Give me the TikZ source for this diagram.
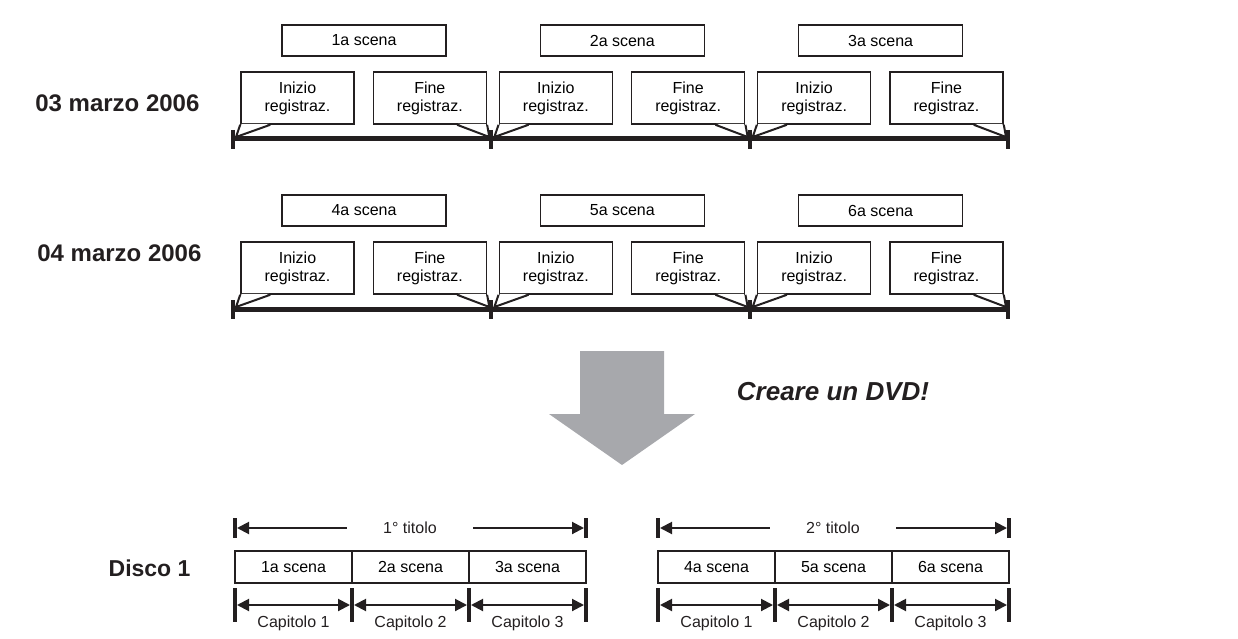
\documentclass[tikz,border=0pt]{standalone}
\usepackage{fontspec}
\setmainfont{Liberation Sans}
\usetikzlibrary{arrows.meta, calc}
\definecolor{ink}{RGB}{35,31,32}
\definecolor{arrowgray}{RGB}{167,168,172}
\tikzset{
    scenebox/.style={rectangle, draw=ink, line width=1.6pt, minimum width=164pt, minimum height=31pt, inner sep=0pt, text centered, font=\fontsize{16}{18}\selectfont},
    callout/.style={rectangle, draw=ink, line width=1.6pt, minimum width=113pt, minimum height=52pt, inner sep=0pt, align=center, font=\fontsize{16}{18}\selectfont},
    tail/.style={draw=ink, line width=2pt, line join=miter},
    timeline/.style={draw=ink, line width=5pt},
    tickmark/.style={draw=ink, line width=4pt},
    datelabel/.style={anchor=east, text=ink, font=\fontsize{24}{27}\selectfont\bfseries},
}

\begin{document}
\begin{tikzpicture}[
        x=1pt, y=-1pt,
        discbox/.style={rectangle, draw=ink, line width=1.5pt, minimum width=117pt, minimum height=32pt, inner sep=0pt, text centered, font=\fontsize{16}{18}\selectfont},
        smalltext/.style={text=ink, font=\fontsize{16}{18}\selectfont},
        arrow/.style={{Triangle[length=12pt,width=12pt]}-, draw=ink, line width=2pt},
        twoarrow/.style={{Triangle[length=12pt,width=12pt]}-{Triangle[length=12pt,width=12pt]}, draw=ink, line width=2pt}
    ]
        \useasboundingbox (0,0) rectangle (1238,639);

        % Recording days
        \node[datelabel] (date1) at (203,103) {03 marzo 2006};
        \node[datelabel] (date2) at (205,253) {04 marzo 2006};

        \foreach \r/\dy/\n in {1/0/0, 2/170/3} {
            \foreach \k in {0,...,3}
                \coordinate (t\r_\k) at (233+258.33*\k, 139+\dy);
            \draw[timeline] (t\r_0) -- (t\r_3);
            \foreach \k in {0,...,3}
                \draw[tickmark] ($(t\r_\k)+(0,-9)$) -- ($(t\r_\k)+(0,10)$);

            \foreach \k in {0,1,2} {
                \pgfmathtruncatemacro\scn{\n+\k+1}
                \pgfmathtruncatemacro\kk{\k+1}
                \node[scenebox] (scene\scn) at (364+258.33*\k, 40.5+\dy) {\scn a scena};
                \node[callout] (start\scn) at (297.5+258.33*\k, 98+\dy) {Inizio\\registraz.};
                \node[callout] (end\scn) at (171.5+258.33*\kk, 98+\dy) {Fine\\registraz.};
                \coordinate (tip_s\scn) at ($(t\r_\k)+(3,-2)$);
                \coordinate (tip_e\scn) at ($(t\r_\kk)+(-2,-2)$);

                % Callout tails
                \fill[white] ([xshift=1.5pt,yshift=1pt]start\scn.south west) -- (tip_s\scn) -- ([xshift=29pt,yshift=1pt]start\scn.south west) -- cycle;
                \draw[tail] (start\scn.south west) -- (tip_s\scn) -- ([xshift=30pt]start\scn.south west);
                \fill[white] ([xshift=-1.5pt,yshift=1pt]end\scn.south east) -- (tip_e\scn) -- ([xshift=-29pt,yshift=1pt]end\scn.south east) -- cycle;
                \draw[tail] (end\scn.south east) -- (tip_e\scn) -- ([xshift=-30pt]end\scn.south east);
            }
        }

        % Big arrow
        \fill[arrowgray] (580,351) -- (664,351) -- (664,414) -- (695,414) -- (622,465) -- (549,414) -- (580,414) -- cycle;
        \node[text=ink, font=\fontsize{26}{30}\selectfont\bfseries\itshape] (create) at (833,392) {Creare un DVD!};

        % Disc
        \node[datelabel, font=\fontsize{23}{26}\selectfont\bfseries] (disc) at (194,568) {Disco 1};

        \foreach \g/\x/\n in {1/235/0, 2/658/3} {
            \foreach \i in {0,...,3}
                \coordinate (div\g_\i) at (\x+117*\i, 605);
            \coordinate (ttl\g_l) at (\x, 528);
            \coordinate (ttl\g_r) at (\x+351, 528);
            \node[smalltext, inner xsep=36pt] (title\g) at (\x+175, 528) {\g° titolo};

            % Title span
            \draw[tickmark] ($(ttl\g_l)+(0,-10)$) -- ($(ttl\g_l)+(0,10)$);
            \draw[tickmark] ($(ttl\g_r)+(0,-10)$) -- ($(ttl\g_r)+(0,10)$);
            \draw[arrow] ($(ttl\g_l)+(2,0)$) -- (title\g.west);
            \draw[arrow] ($(ttl\g_r)+(-2,0)$) -- (title\g.east);

            \foreach \i in {0,1,2} {
                \pgfmathtruncatemacro\scn{\n+\i+1}
                \pgfmathtruncatemacro\ii{\i+1}
                \node[discbox] (disc\scn) at (\x+58.5+117*\i, 567) {\scn a scena};
                \node[smalltext, anchor=base] (chap\g_\ii) at (\x+58.5+117*\i, 627) {Capitolo \ii};
                \draw[twoarrow] ($(div\g_\i)+(2,0)$) -- ($(div\g_\ii)+(-2,0)$);
            }
            \foreach \i in {0,...,3}
                \draw[tickmark] ($(div\g_\i)+(0,-17)$) -- ($(div\g_\i)+(0,17)$);
        }
    \end{tikzpicture}
\end{document}
